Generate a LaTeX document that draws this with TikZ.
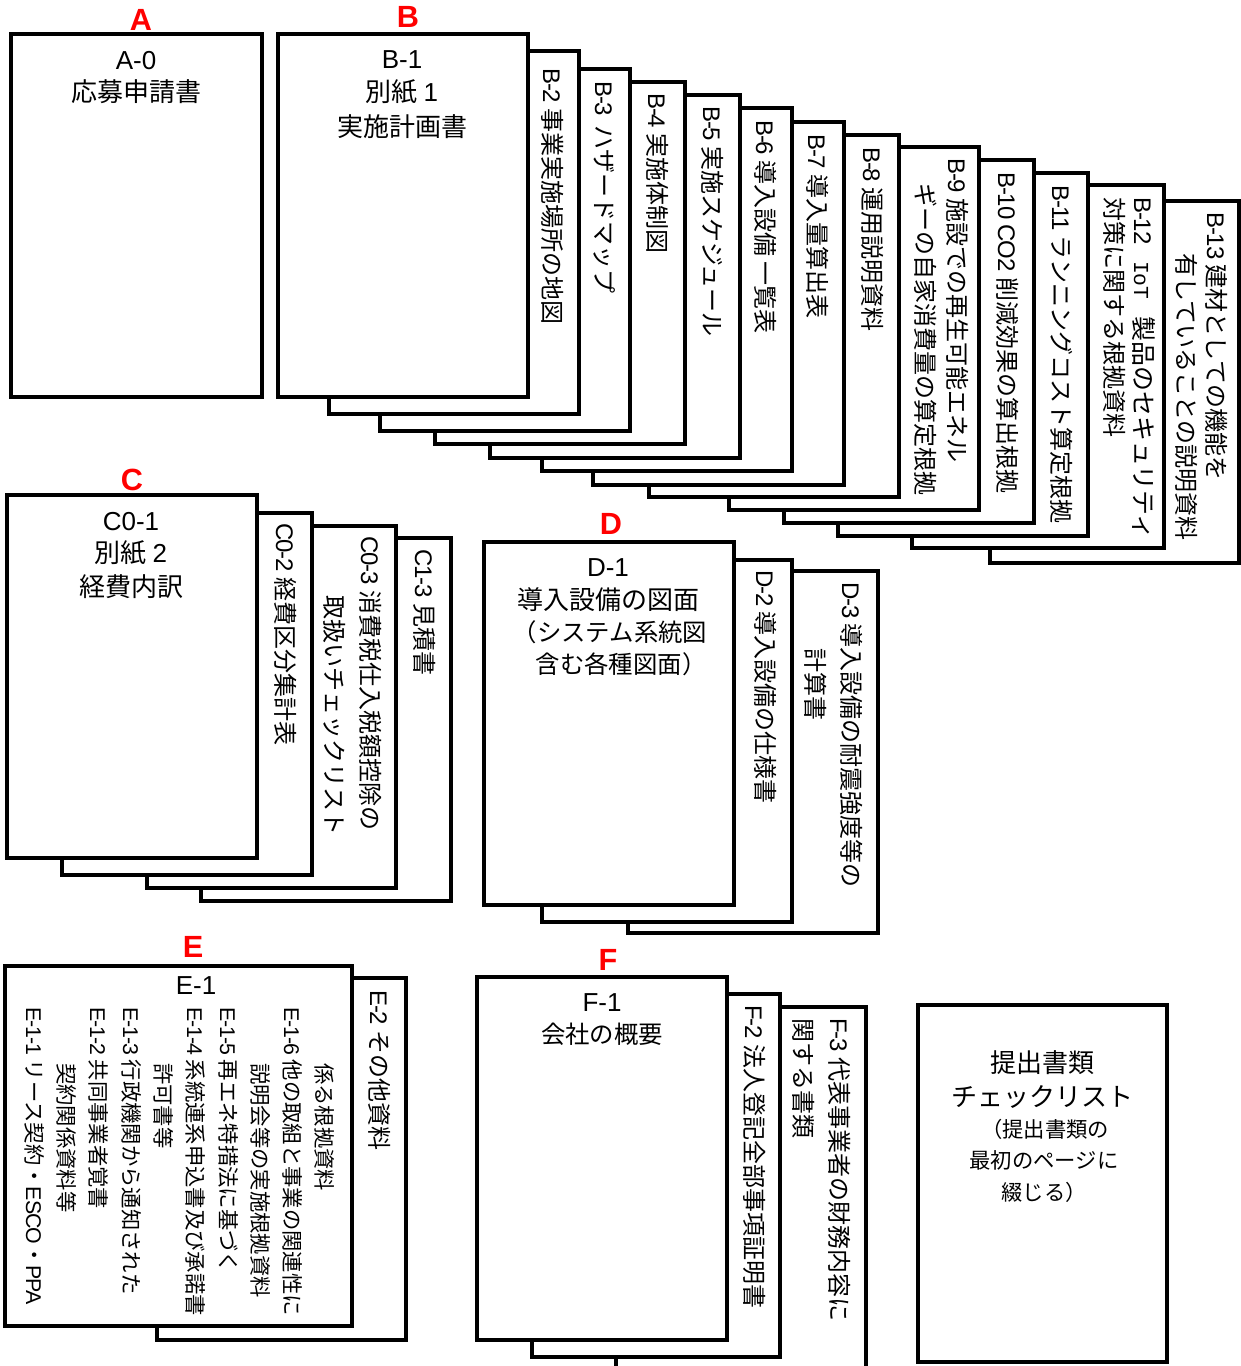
\documentclass[tikz,border=0pt]{standalone}
\usepackage{fontspec}
\setmainfont{Noto Sans CJK JP}
\newfontfamily\latf{Liberation Sans}
\newfontfamily\latt[LetterSpace=-5]{Liberation Sans}
\newfontfamily\monof{Liberation Mono}
\newcommand\lat[1]{{\latt #1}}
\tikzset{
  sheetbox/.style={draw=black,fill=white,line width=2.5pt,line join=miter,inner sep=0pt,outer sep=0pt,anchor=north west},
  vtext/.style={rotate=-90,anchor=west,inner sep=0pt,text height=15.84pt,text depth=4.16pt,font=\fontsize{18}{18}\selectfont},
  vsmall/.style={rotate=-90,anchor=west,inner sep=0pt,text height=14.08pt,text depth=3.92pt,font=\fontsize{16}{16}\selectfont},
  htext/.style={inner sep=0pt,text height=17.16pt,text depth=2.34pt,font=\fontsize{19.5}{19.5}\selectfont},
  hnum/.style={inner sep=0pt,text height=13.96pt,text depth=0pt,font=\fontsize{19.5}{19.5}\latf},
  hmid/.style={inner sep=0pt,text height=15.84pt,text depth=2.16pt,font=\fontsize{18.3}{18.3}\selectfont},
  hsmall/.style={inner sep=0pt,text height=14.08pt,text depth=1.92pt,font=\fontsize{16}{16}\selectfont},
  grouplabel/.style={inner sep=0pt,text=red,font=\fontsize{23}{23}\latf\bfseries},
}
\newcommand\sheetrect[5]{%
  \pgfmathsetlengthmacro\sheetw{(#4-#2)*0.75pt}%
  \pgfmathsetlengthmacro\sheeth{(#5-#3)*0.75pt}%
  \node[sheetbox,minimum width=\sheetw,minimum height=\sheeth] (#1) at (#2,#3) {};}
\begin{document}
\begin{tikzpicture}[x=0.75pt,y=-0.75pt]
\useasboundingbox (0,0) rectangle (1241,1366);
\clip (0,0) rectangle (1241,1366);
% group labels
\node[grouplabel] (la) at (141,20) {A};
\node[grouplabel] (lb) at (408,17) {B};
\node[grouplabel] (lc) at (132,480) {C};
\node[grouplabel] (ld) at (611,524) {D};
\node[grouplabel] (le) at (193,947) {E};
\node[grouplabel] (lf) at (608,960) {F};
% A
\sheetrect{a0}{11}{34}{262}{397}
\node[hnum] (a0t) at (136,60) {A-0};
\node[htext] (a0u) at (136,92) {応募申請書};
% B stack, back to front
\sheetrect{b13}{990}{201}{1239}{563}
\sheetrect{b12}{912}{185}{1164}{548}
\sheetrect{b11}{838}{173}{1088}{536}
\sheetrect{b10}{784}{160}{1034}{523}
\sheetrect{b9}{729}{147}{979}{510}
\sheetrect{b8}{649}{135}{899}{497}
\sheetrect{b7}{593}{122}{844}{485}
\sheetrect{b6}{542}{108}{792}{471}
\sheetrect{b5}{490}{95}{740}{458}
\sheetrect{b4}{435}{82}{685}{444}
\sheetrect{b3}{380}{69}{630}{431}
\sheetrect{b2}{329}{51}{579}{414}
\sheetrect{b1}{278}{34}{528}{397}
\node[hnum] (b1t) at (402,59) {B-1};
\node[htext] (b1u) at (402,92) {別紙 {\latf 1}};
\node[htext] (b1v) at (402,127) {実施計画書};
\node[vtext] (b2t) at (551,68) {\lat{B-2} 事業実施場所の地図};
\node[vtext] (b3t) at (603,81) {\lat{B-3}\hspace{.4em}ハザードマップ};
\node[vtext] (b4t) at (656,93) {\lat{B-4} 実施体制図};
\node[vtext] (b5t) at (711,106) {\lat{B-5} 実施スケジュール};
\node[vtext] (b6t) at (764,120) {\lat{B-6} 導入設備 一覧表};
\node[vtext] (b7t) at (816,134) {\lat{B-7} 導入量算出表};
\node[vtext] (b8t) at (871,147) {\lat{B-8} 運用説明資料};
\node[vtext] (b9t) at (956,158) {\lat{B-9} 施設での再生可能エネル};
\node[vtext] (b9u) at (924,183) {ギーの自家消費量の算定根拠};
\node[vtext] (b10t) at (1006,172) {\lat{B-10 CO2} 削減効果の算出根拠};
\node[vtext] (b11t) at (1060,185) {\lat{B-11} ランニングコスト算定根拠};
\node[vtext] (b12t) at (1142,197) {\lat{B-12}\hspace{.7em}{\fontsize{16}{16}\monof IoT}\hspace{.7em}{\fontsize{18.7}{18.7}\selectfont 製品のセキュリティ}};
\node[vtext] (b12u) at (1113,197) {対策に関する根拠資料};
\node[vtext] (b13t) at (1215,212) {\lat{B-13} 建材としての機能を};
\node[vtext] (b13u) at (1185,253) {有していることの説明資料};
% C stack
\sheetrect{c13}{201}{538}{451}{901}
\sheetrect{c03}{147}{526}{396}{888}
\sheetrect{c02}{62}{513}{312}{875}
\sheetrect{c01}{7}{495}{257}{858}
\node[hnum] (c01t) at (131,521) {C0-1};
\node[htext] (c01u) at (131,553) {別紙 {\latf 2}};
\node[htext] (c01v) at (131,587) {経費内訳};
\node[vtext] (c02t) at (284,523) {\lat{C0-2} 経費区分集計表};
\node[vtext] (c03t) at (369,536) {\lat{C0-3} 消費税仕入税額控除の};
\node[vtext] (c03u) at (333,595) {取扱いチェックリスト};
\node[vtext] (c13t) at (423,549) {\lat{C1-3} 見積書};
% D stack
\sheetrect{d3}{628}{571}{878}{933}
\sheetrect{d2}{542}{560}{792}{922}
\sheetrect{d1}{484}{542}{734}{905}
\node[hnum] (d1t) at (608,567) {D-1};
\node[htext] (d1u) at (608,600) {導入設備の図面};
\node[hmid] (d1v) at (610,632) {（システム系統図};
\node[hmid] (d1w) at (621,664) {含む各種図面）};
\node[vtext] (d2t) at (764,570) {\lat{D-2} 導入設備の仕様書};
\node[vtext] (d3t) at (850,582) {\lat{D-3} 導入設備の耐震強度等の};
\node[vtext] (d3u) at (814,648) {計算書};
% E stack
\sheetrect{e2}{157}{978}{406}{1340}
\sheetrect{e1}{5}{966}{352}{1326}
\node[hnum] (e1t) at (196,985) {E-1};
\node[vsmall] (e11) at (33,1007) {\lat{E-1-1} リース契約・\lat{ESCO}・\lat{PPA}};
\node[vsmall] (e11b) at (65,1063) {契約関係資料等};
\node[vsmall] (e12) at (97,1007) {\lat{E-1-2} 共同事業者覚書};
\node[vsmall] (e13) at (130,1007) {\lat{E-1-3} 行政機関から通知された};
\node[vsmall] (e13b) at (162,1063) {許可書等};
\node[vsmall] (e14) at (194,1007) {\lat{E-1-4} 系統連系申込書及び承諾書};
\node[vsmall] (e15) at (227,1007) {\lat{E-1-5} 再エネ特措法に基づく};
\node[vsmall] (e15b) at (259,1063) {説明会等の実施根拠資料};
\node[vsmall] (e16) at (291,1007) {\lat{E-1-6} 他の取組と事業の関連性に};
\node[vsmall] (e16b) at (323,1063) {係る根拠資料};
\node[vtext] (e2t) at (378,990) {\lat{E-2} その他資料};
% F stack
\sheetrect{f3}{616}{1007}{866}{1380}
\sheetrect{f2}{532}{994}{780}{1357}
\sheetrect{f1}{477}{977}{727}{1340}
\node[hnum] (f1t) at (602,1002) {F-1};
\node[hmid] (f1u) at (602,1034) {会社の概要};
\node[vtext] (f2t) at (753,1005) {\lat{F-2} 法人登記全部事項証明書};
\node[vtext] (f3t) at (838,1018) {\lat{F-3} 代表事業者の財務内容に};
\node[vtext] (f3u) at (802,1018) {関する書類};
% checklist
\sheetrect{chk}{918}{1005}{1167}{1362}
\node[htext] (chk1) at (1042,1063) {提出書類};
\node[htext] (chk2) at (1042,1097) {チェックリスト};
\node[hsmall] (chk3) at (1045,1129) {（提出書類の};
\node[hsmall] (chk4) at (1044,1160) {最初のページに};
\node[hsmall] (chk5) at (1044,1192) {綴じる）};
\end{tikzpicture}
\end{document}
